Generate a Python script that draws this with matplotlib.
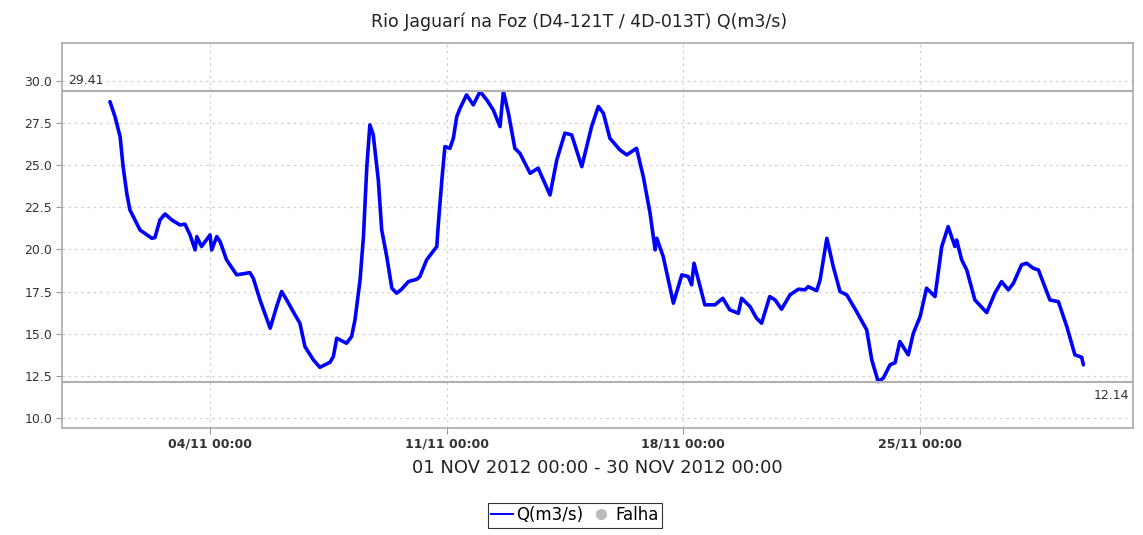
import matplotlib.pyplot as plt
from matplotlib.lines import Line2D
import numpy as np

# days since 01 NOV 2012 00:00
days = [0.04, 0.19, 0.34, 0.43, 0.54, 0.63, 0.78, 0.93, 1.28, 1.37, 1.52, 1.67,
        1.87, 2.11, 2.26, 2.41, 2.56, 2.61, 2.75, 3.00, 3.05, 3.20, 3.30, 3.49,
        3.79, 4.18, 4.28, 4.48, 4.78, 4.97, 5.12, 5.27, 5.46, 5.66, 5.81, 6.06,
        6.25, 6.55, 6.65, 6.75, 7.04, 7.19, 7.29, 7.44, 7.54, 7.64, 7.73, 7.83,
        7.98, 8.08, 8.23, 8.38, 8.52, 8.67, 8.87, 9.12, 9.21, 9.41, 9.56, 9.71,
        9.75, 9.86, 9.95, 10.10, 10.20, 10.30, 10.40, 10.59, 10.79, 10.99, 11.19,
        11.38, 11.58, 11.68, 11.83, 12.02, 12.17, 12.47, 12.71, 13.06, 13.26,
        13.50, 13.70, 14.00, 14.29, 14.49, 14.64, 14.83, 15.13, 15.33, 15.62,
        15.82, 16.02, 16.17, 16.22, 16.41, 16.71, 16.96, 17.15, 17.25, 17.32,
        17.45, 17.64, 17.94, 18.17, 18.38, 18.63, 18.73, 18.98, 19.17, 19.32,
        19.56, 19.72, 19.91, 20.16, 20.41, 20.60, 20.70, 20.95, 21.05, 21.25,
        21.44, 21.64, 21.84, 22.13, 22.43, 22.58, 22.77, 22.92, 23.12, 23.27,
        23.41, 23.66, 23.81, 24.01, 24.20, 24.45, 24.65, 24.84, 25.04, 25.09,
        25.24, 25.39, 25.63, 25.98, 26.22, 26.42, 26.62, 26.77, 27.01, 27.16,
        27.36, 27.51, 27.85, 28.10, 28.35, 28.59, 28.79, 28.84]
q = [28.77, 27.88, 26.70, 24.90, 23.30, 22.35, 21.75, 21.15, 20.66, 20.70, 21.75, 22.10,
     21.75, 21.45, 21.50, 20.86, 19.97, 20.76, 20.17, 20.86, 19.97, 20.76, 20.46, 19.38,
     18.49, 18.62, 18.29, 17.00, 15.32, 16.60, 17.50, 17.00, 16.31, 15.62, 14.23, 13.44,
     13.00, 13.30, 13.64, 14.73, 14.43, 14.83, 15.82, 18.19, 20.76, 24.91, 27.39, 26.80,
     24.12, 21.16, 19.57, 17.70, 17.40, 17.64, 18.09, 18.23, 18.39, 19.38, 19.77, 20.17,
     21.35, 24.12, 26.10, 26.00, 26.60, 27.88, 28.38, 29.17, 28.58, 29.37, 28.87,
     28.28, 27.29, 29.37, 28.08, 26.00, 25.70, 24.52, 24.82, 23.23, 25.31,
     26.90, 26.80, 24.91, 27.29, 28.48, 28.08, 26.60, 25.90, 25.61, 26.00,
     24.32, 22.15, 19.97, 20.66, 19.57, 16.81, 18.49, 18.39, 17.90, 19.18,
     18.19, 16.71, 16.71, 17.10, 16.41, 16.21, 17.10, 16.60, 15.92, 15.62,
     17.20, 17.00, 16.45, 17.30, 17.64, 17.60, 17.79, 17.55, 18.19, 20.66,
     18.98, 17.50, 17.30, 16.31, 15.22, 13.44, 12.15, 12.36, 13.15, 13.28,
     14.53, 13.74, 15.03, 16.01, 17.70, 17.20, 20.17, 21.35, 20.17, 20.56,
     19.38, 18.78, 17.00, 16.25, 17.40, 18.09, 17.60, 17.99, 19.08, 19.18,
     18.88, 18.78, 17.00, 16.90, 15.42, 13.74, 13.60, 13.15]

q_max = 29.41
q_min = 12.14
tick_days = [3, 10, 17, 24]
tick_labels = ["04/11 00:00", "11/11 00:00", "18/11 00:00", "25/11 00:00"]
y_ticks = [10.0, 12.5, 15.0, 17.5, 20.0, 22.5, 25.0, 27.5, 30.0]

fig = plt.figure(figsize=(11.43, 5.35), dpi=100)
ax = fig.add_axes([0.0542, 0.2, 0.9371, 0.7196])

ax.plot(days, q, color="#0000ff", lw=2.6, solid_joinstyle="round", solid_capstyle="round")
ax.axhline(q_max, color="#b0b0b0", lw=1.5)
ax.axhline(q_min, color="#b0b0b0", lw=1.5)
ax.text(-1.2, q_max + 0.25, f"{q_max:.2f}", fontsize=9, color="#333333", ha="left", va="bottom")
ax.text(30.2, q_min - 0.45, f"{q_min:.2f}", fontsize=9, color="#333333", ha="right", va="top")

ax.set_xlim(-1.38, 30.31)
ax.set_ylim(9.4, 32.25)
ax.set_xticks(tick_days)
ax.set_xticklabels(tick_labels, fontsize=9, fontweight="bold", color="#333333")
ax.set_yticks(y_ticks)
ax.set_yticklabels([f"{v:.1f}" for v in y_ticks], fontsize=9, color="#333333")
ax.tick_params(length=4, color="#999999", pad=3)
ax.grid(True, color="#d0d0d0", linestyle=(0, (2, 3)), lw=0.9)
for s in ax.spines.values():
    s.set_color("#aaaaaa")
    s.set_linewidth(1.2)

fig.text(0.507, 0.959, "Rio Jaguarí na Foz (D4-121T / 4D-013T) Q(m3/s)",
         ha="center", va="center", fontsize=12.5, color="#222222")
fig.text(0.523, 0.125, "01 NOV 2012 00:00 - 30 NOV 2012 00:00",
         ha="center", va="center", fontsize=13, color="#222222")

handles = [Line2D([], [], color="#0000ff", lw=1.4),
           Line2D([], [], color="#bbbbbb", marker="o", ls="none", markersize=7)]
leg = fig.legend(handles, ["Q(m3/s)", "Falha"], loc="center",
                 bbox_to_anchor=(0.503, 0.037), ncol=2, fontsize=12,
                 frameon=True, fancybox=False, handlelength=1.3, handletextpad=0.2,
                 columnspacing=0.4, borderpad=0.2, borderaxespad=0)
leg.get_frame().set_edgecolor("black")
leg.get_frame().set_linewidth(0.8)

fig.savefig("out.png", dpi=100)
